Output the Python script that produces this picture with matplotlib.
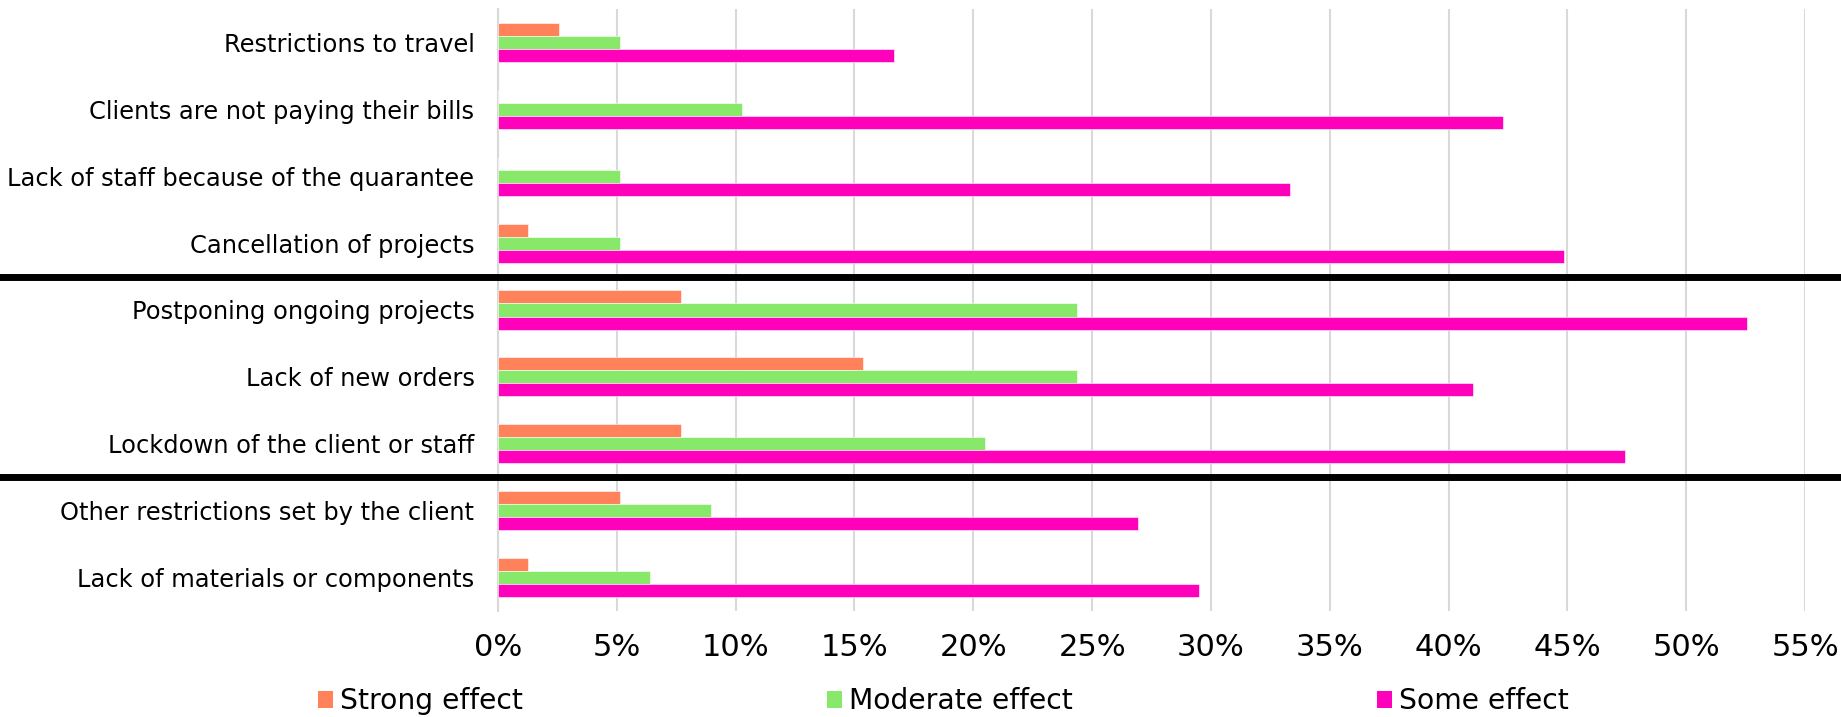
import matplotlib
matplotlib.use("Agg")
import matplotlib.pyplot as plt
from matplotlib.patches import Patch
from matplotlib.lines import Line2D
from matplotlib.ticker import FuncFormatter
import matplotlib.transforms as mtransforms
import numpy as np

categories = [
    "Restrictions to travel",
    "Clients are not paying their bills",
    "Lack of staff because of the quarantee",
    "Cancellation of projects",
    "Postponing ongoing projects",
    "Lack of new orders",
    "Lockdown of the client or staff",
    "Other restrictions set by the client",
    "Lack of materials or components",
]
strong = [2.56, 0.0, 0.0, 1.28, 7.69, 15.38, 7.69, 5.13, 1.28]
moderate = [5.13, 10.26, 5.13, 5.13, 24.36, 24.36, 20.51, 8.97, 6.41]
some = [16.67, 42.31, 33.33, 44.87, 52.56, 41.03, 47.44, 26.92, 29.49]
series_names = ["Strong effect", "Moderate effect", "Some effect"]
colors = ["#FF825A", "#88E86A", "#FF00BB"]
separators_after = [3, 6]  # black line after these category indices
xticks = list(range(0, 56, 5))

W, H = 1841, 717
fig = plt.figure(figsize=(W / 100, H / 100), dpi=100)
plt.rcParams['font.family'] = ['DejaVu Sans']
ax = fig.add_axes([498 / W, 1 - 611 / H, (1805 - 498) / W, (611 - 9) / H])

y = np.arange(len(categories))
bh = 0.195
for vals, off, col, name in zip([strong, moderate, some], [-bh, 0, bh], colors, series_names):
    ax.barh(y + off, vals, height=bh, color=col, edgecolor="white", linewidth=0.4, label=name, zorder=3)

ax.set_ylim(len(categories) - 0.5, -0.5)
ax.set_xlim(0, 55)
ax.set_yticks(y)
ax.set_yticklabels(categories, fontsize=17.4)
ax.set_xticks(xticks)
ax.xaxis.set_major_formatter(FuncFormatter(lambda v, p: f"{int(round(v))}%"))
ax.tick_params(axis="x", length=0, pad=16, labelsize=22)
ax.tick_params(axis="y", length=0, pad=17)
ax.grid(axis="x", color="#D9D9D9", linewidth=1.5, zorder=0)
for s in ["top", "right", "bottom"]:
    ax.spines[s].set_visible(False)
ax.spines["left"].set_color("#D9D9D9")
ax.spines["left"].set_linewidth(1.5)

trans = mtransforms.blended_transform_factory(fig.transFigure, ax.transData)
for idx in separators_after:
    fig.add_artist(Line2D([0, 1], [idx + 0.5, idx + 0.5], transform=trans, color="black", linewidth=5, zorder=5))

handles = [Patch(facecolor=c, edgecolor="none", label=n) for c, n in zip(colors, series_names)]
fig.legend(handles=handles, loc="center", bbox_to_anchor=(943.5 / W, 1 - 701 / H), ncol=3, frameon=False,
           fontsize=20.3, handlelength=0.53, handleheight=0.55, handletextpad=0.25, columnspacing=10.8,
           borderpad=0.1)

fig.savefig("out.png", dpi=100)
